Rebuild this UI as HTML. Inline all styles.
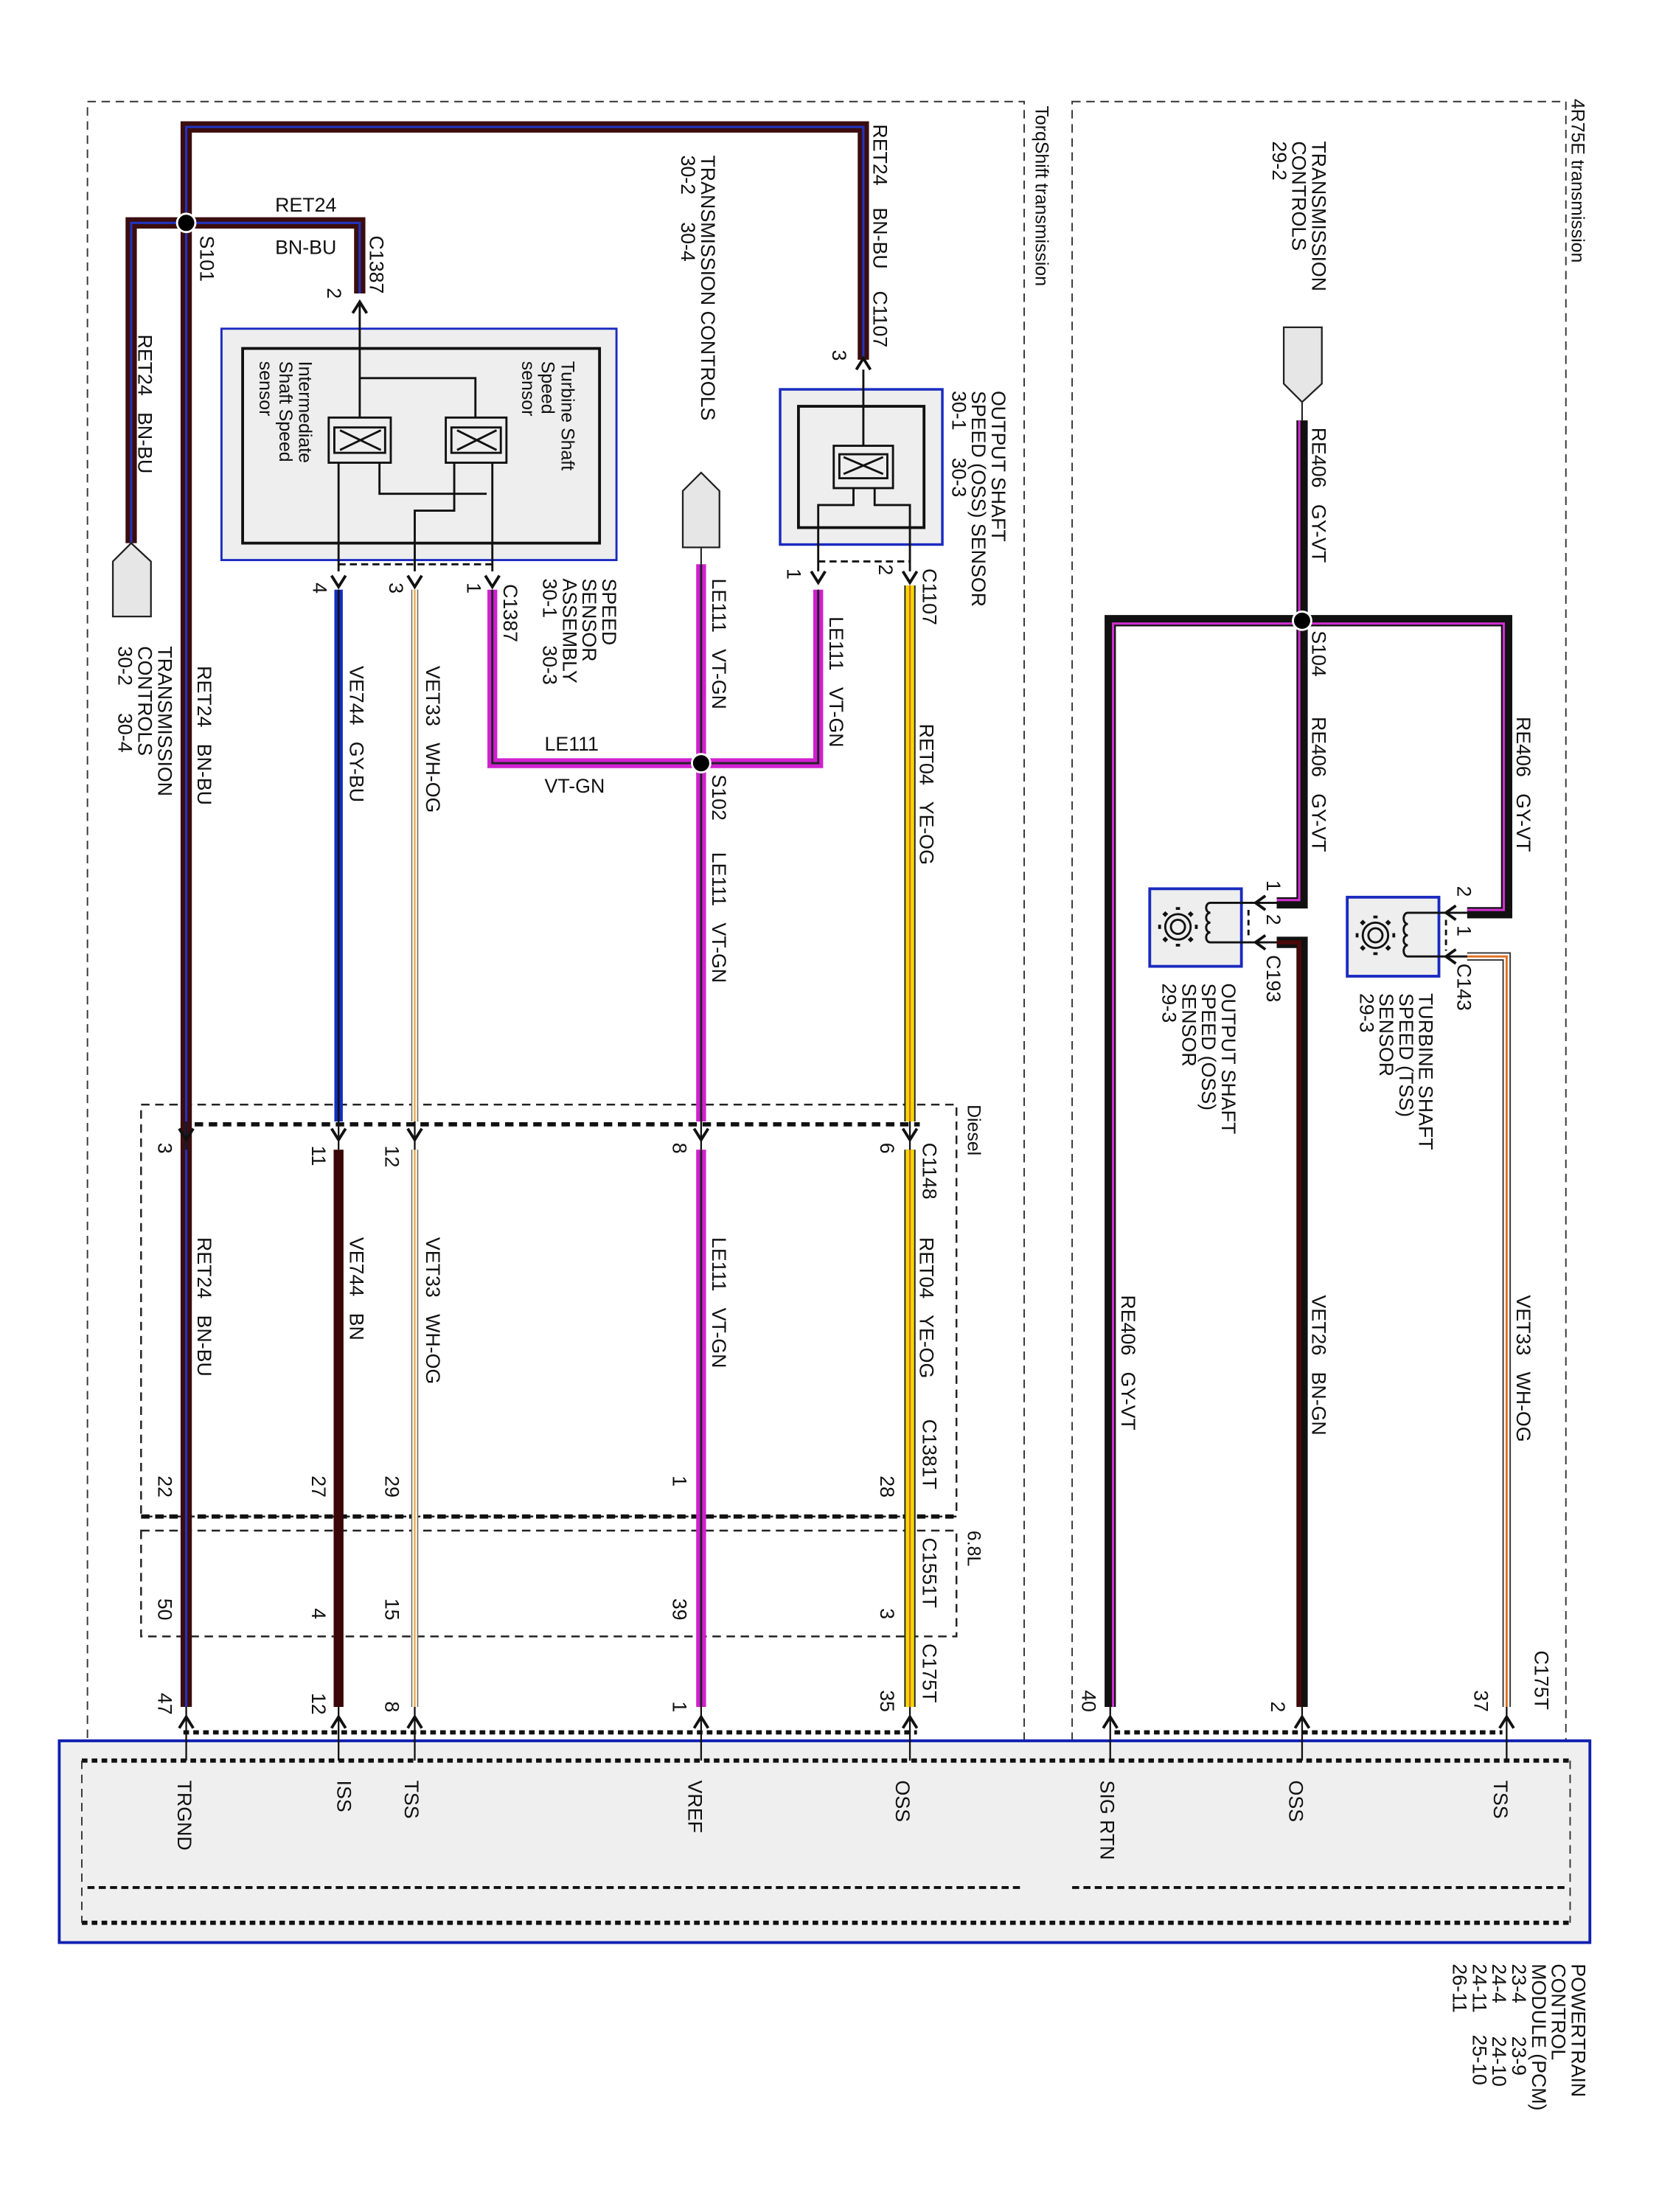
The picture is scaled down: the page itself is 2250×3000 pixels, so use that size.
<!DOCTYPE html>
<html><head><meta charset="utf-8">
<style>
html,body{margin:0;padding:0;background:#fff;}
svg{display:block;}
text{font-family:"Liberation Sans",sans-serif;font-size:14px;fill:#111;white-space:pre;}
.s{font-size:13px;}
.w{fill:none;stroke-linejoin:miter;stroke-linecap:butt;}
</style></head><body>
<svg width="2250" height="3000" viewBox="0 0 1176 1568" preserveAspectRatio="none" xmlns="http://www.w3.org/2000/svg">
<rect x="0" y="0" width="1176" height="1568" fill="#fff"/>
<rect x="62" y="72" width="664" height="1266" fill="none" stroke="#333" stroke-width="1" stroke-dasharray="6,4"/>
<rect x="760" y="72" width="350" height="1266" fill="none" stroke="#333" stroke-width="1" stroke-dasharray="6,4"/>
<text class="s" transform="translate(734,75) rotate(90)">TorqShift transmission</text>
<text class="s" transform="translate(1114,70) rotate(90)">4R75E transmission</text>

<rect x="42" y="1234" width="1085" height="143" fill="#efefef" stroke="#1020b0" stroke-width="2"/>
<line x1="58" y1="1248" x2="1113" y2="1248" stroke="#111" stroke-width="3" stroke-dasharray="4,3"/>
<line x1="58" y1="1363" x2="1113" y2="1363" stroke="#111" stroke-width="3" stroke-dasharray="4,3"/>
<line x1="58" y1="1248" x2="58" y2="1363" stroke="#333" stroke-dasharray="6,4"/>
<line x1="1113" y1="1248" x2="1113" y2="1363" stroke="#333" stroke-dasharray="6,4"/>
<line x1="62" y1="1338" x2="726" y2="1338" stroke="#111" stroke-width="2" stroke-dasharray="5,3"/>
<line x1="760" y1="1338" x2="1110" y2="1338" stroke="#111" stroke-width="2" stroke-dasharray="5,3"/>
<line x1="130" y1="1228" x2="650" y2="1228" stroke="#111" stroke-width="3" stroke-dasharray="4,3"/>
<line x1="790" y1="1228" x2="1065" y2="1228" stroke="#111" stroke-width="3" stroke-dasharray="4,3"/>
<text transform="translate(126,1262) rotate(90)">TRGND</text>
<text transform="translate(239,1262) rotate(90)">ISS</text>
<text transform="translate(287,1262) rotate(90)">TSS</text>
<text transform="translate(488,1262) rotate(90)">VREF</text>
<text transform="translate(635,1262) rotate(90)">OSS</text>
<text transform="translate(780,1262) rotate(90)">SIG RTN</text>
<text transform="translate(914,1262) rotate(90)">OSS</text>
<text transform="translate(1059,1262) rotate(90)">TSS</text>
<text transform="translate(1114,1392) rotate(90)">POWERTRAIN</text>
<text transform="translate(1100,1392) rotate(90)">CONTROL</text>
<text transform="translate(1086,1392) rotate(90)">MODULE (PCM)</text>
<text transform="translate(1072,1392) rotate(90)">23-4      23-9</text>
<text transform="translate(1058,1392) rotate(90)">24-4      24-10</text>
<text transform="translate(1044,1392) rotate(90)">24-11    25-10</text>
<text transform="translate(1030,1392) rotate(90)">26-11</text>

<rect x="100" y="783" width="578" height="292" fill="none" stroke="#222" stroke-width="1.3" stroke-dasharray="6,4"/>
<line x1="100" y1="1075" x2="678" y2="1075" stroke="#111" stroke-width="3" stroke-dasharray="6,4"/>
<line x1="128" y1="797" x2="652" y2="797" stroke="#111" stroke-width="3" stroke-dasharray="6,4"/>
<rect x="100" y="1085" width="578" height="75" fill="none" stroke="#222" stroke-width="1.3" stroke-dasharray="6,4"/>
<text class="s" transform="translate(686,783) rotate(90)">Diesel</text>
<text class="s" transform="translate(686,1085) rotate(90)">6.8L</text>
<text transform="translate(654,810) rotate(90)">C1148</text>
<text transform="translate(654,1006) rotate(90)">C1381T</text>
<text transform="translate(654,1090) rotate(90)">C1551T</text>
<text transform="translate(654,1165) rotate(90)">C175T</text>
<text transform="translate(1088,1170) rotate(90)">C175T</text>

<g class="w">
<path d="M132 1210 V90 H612 V255" stroke="#3b0d0d" stroke-width="8"/>
<path d="M132 1210 V90 H612 V255" stroke="#2233c0" stroke-width="1.6"/>
<path d="M93 385 V158 H255 V208" stroke="#3b0d0d" stroke-width="8"/>
<path d="M93 385 V158 H255 V208" stroke="#2233c0" stroke-width="1.6"/>
<path d="M240 418 V795" stroke="#1030c0" stroke-width="6"/>
<path d="M240 418 V795" stroke="#111" stroke-width="1.4"/>
<path d="M240 815 V1210" stroke="#3a0808" stroke-width="7"/>
<path d="M294 418 V795 M294 815 V1210" stroke="#666" stroke-width="5"/>
<path d="M294 418 V795 M294 815 V1210" stroke="#fff6dc" stroke-width="3.5"/>
<path d="M294 418 V795 M294 815 V1210" stroke="#e0a050" stroke-width="1"/>
<path d="M349 418 V541 H580 V418" stroke="#d020d0" stroke-width="7"/>
<path d="M349 418 V541 H580 V418" stroke="#222" stroke-width="1.5"/>
<path d="M497 400 V795 M497 815 V1210" stroke="#d020d0" stroke-width="7"/>
<path d="M497 400 V795 M497 815 V1210" stroke="#222" stroke-width="1.5"/>
<path d="M645 415 V795 M645 815 V1210" stroke="#222" stroke-width="8"/>
<path d="M645 415 V795 M645 815 V1210" stroke="#f5d800" stroke-width="6"/>
<path d="M645 415 V795 M645 815 V1210" stroke="#d07000" stroke-width="1.2"/>
<path d="M923 298 V640 H905" stroke="#111" stroke-width="8"/>
<path d="M921 298 V638 H905" stroke="#d030d0" stroke-width="1.6"/>
<path d="M787 1210 V440 H1068 V647 H1040" stroke="#111" stroke-width="8"/>
<path d="M789 1210 V442 H1066 V645 H1040" stroke="#d030d0" stroke-width="1.6"/>
<path d="M905 668 H923 V1210" stroke="#111" stroke-width="8"/>
<path d="M905 668 H921 V1210" stroke="#4a0808" stroke-width="3"/>
<path d="M1040 678 H1068 V1210" stroke="#333" stroke-width="6"/>
<path d="M1040 678 H1068 V1210" stroke="#fff" stroke-width="4"/>
<path d="M1040 678 H1068 V1210" stroke="#e07020" stroke-width="1.5"/>
</g>

<circle cx="132" cy="158" r="6.5" fill="#000" stroke="#fff" stroke-width="1.5"/>
<circle cx="497" cy="541" r="6.5" fill="#000" stroke="#fff" stroke-width="1.5"/>
<circle cx="923" cy="440" r="6.5" fill="#000" stroke="#fff" stroke-width="1.5"/>

<path d="M93 385 V395" stroke="#111"/>
<polygon points="80,437 80,398 93,385 107,398 107,437" fill="#e6e6e6" stroke="#222" stroke-width="1.2"/>
<path d="M497 388 V400" stroke="#111"/>
<polygon points="484,388 484,348 497,335 510,348 510,388" fill="#e6e6e6" stroke="#222" stroke-width="1.2"/>
<path d="M923 285 V298" stroke="#111"/>
<polygon points="910,232 937,232 937,272 923,285 910,272" fill="#e6e6e6" stroke="#222" stroke-width="1.2"/>

<rect x="157" y="233" width="280" height="164" fill="#eee" stroke="#1a2ac0" stroke-width="1.5"/>
<rect x="172" y="247" width="253" height="138" fill="none" stroke="#111" stroke-width="2"/>
<g fill="none" stroke="#111" stroke-width="1.5">
<path d="M255 215 V296 M255 268 H337 V296"/>
<rect x="233" y="296" width="44" height="32"/>
<rect x="316" y="296" width="43" height="32"/>
<rect x="237" y="303" width="36" height="18"/>
<rect x="320" y="303" width="35" height="18"/>
<path d="M240 328 V405 M269 328 V350 H345 M322 328 V362 H294 V405 M349 328 V405"/>
<path d="M241 305 L270 319 M241 319 L270 305 M324 305 L352 319 M324 319 L352 305"/>
<path d="M240 400 H350" stroke-dasharray="5,3"/>
</g>
<text class="s" transform="translate(398,256) rotate(90)">Turbine Shaft</text>
<text class="s" transform="translate(384,256) rotate(90)">Speed</text>
<text class="s" transform="translate(370,256) rotate(90)">sensor</text>
<text class="s" transform="translate(212,256) rotate(90)">Intermediate</text>
<text class="s" transform="translate(198,256) rotate(90)">Shaft Speed</text>
<text class="s" transform="translate(184,256) rotate(90)">sensor</text>

<rect x="553" y="276" width="115" height="110" fill="#eee" stroke="#1a2ac0" stroke-width="1.8"/>
<rect x="566" y="288" width="89" height="86" fill="none" stroke="#111" stroke-width="2"/>
<g fill="none" stroke="#111" stroke-width="1.5">
<path d="M612 262 V316"/>
<rect x="591" y="316" width="42" height="30"/>
<rect x="595" y="322" width="34" height="17"/>
<path d="M598 324 L626 336 M598 336 L626 324"/>
<path d="M605 346 V358 H580 V405 M620 346 V358 H645 V405"/>
<path d="M580 398 H645" stroke-dasharray="5,3"/>
</g>

<rect x="815" y="630" width="65" height="55" fill="#eee" stroke="#1a2ac0" stroke-width="2"/>
<rect x="955" y="636" width="65" height="56" fill="#eee" stroke="#1a2ac0" stroke-width="2"/>
<g fill="none" stroke="#111" stroke-width="1.5">
<circle cx="835" cy="657" r="9"/><circle cx="835" cy="657" r="5"/>
<circle cx="975" cy="663" r="9"/><circle cx="975" cy="663" r="5"/>
<path d="M835 645 V643 M835 669 V671 M823 657 H821 M847 657 H849 M827 649 L825 647 M843 665 L845 667 M843 649 L845 647 M827 665 L825 667" stroke-width="3"/>
<path d="M975 651 V649 M975 675 V677 M963 663 H961 M987 663 H989 M967 655 L965 653 M983 671 L985 673 M983 655 L985 653 M967 671 L965 673" stroke-width="3"/>
<path d="M858 640 H905 M858 668 H905 M858 640 c-4 0 -4 7 0 7 c-4 0 -4 7 0 7 c-4 0 -4 7 0 7 c-4 0 -4 7 0 7"/>
<path d="M998 647 H1040 M998 678 H1040 M998 647 c-4 0 -4 8 0 8 c-4 0 -4 8 0 8 c-4 0 -4 7 0 7 c-4 0 -4 8 0 8"/>
<path d="M885 645 V664 M1025 652 V674" stroke-dasharray="4,3"/>
</g>

<g fill="none" stroke="#111" stroke-width="2">
<path d="M250 222 L255 214 L260 222"/>
<path d="M607 262 L612 254 L617 262"/>
<path d="M235 408 L240 416 L245 408 M289 408 L294 416 L299 408 M344 408 L349 416 L354 408"/>
<path d="M575 405 L580 413 L585 405 M640 405 L645 413 L650 405"/>
<path d="M127 800 L132 808 L137 800 M235 800 L240 808 L245 800 M289 800 L294 808 L299 800 M492 800 L497 808 L502 800 M640 800 L645 808 L650 800"/>
<path d="M897 635 L890 640 L897 645 M897 663 L890 668 L897 673"/>
<path d="M1032 642 L1025 647 L1032 652 M1032 673 L1025 678 L1032 683"/>
<path d="M127 1225 L132 1217 L137 1225 M235 1225 L240 1217 L245 1225 M289 1225 L294 1217 L299 1225 M492 1225 L497 1217 L502 1225 M640 1225 L645 1217 L650 1225 M782 1225 L787 1217 L792 1225 M918 1225 L923 1217 L928 1225 M1063 1225 L1068 1217 L1073 1225"/>
</g>
<g stroke="#111" stroke-width="1.2">
<path d="M132 1210 V1248 M240 1210 V1248 M294 1210 V1248 M497 1210 V1248 M645 1210 V1248 M787 1210 V1248 M923 1210 V1248 M1068 1210 V1248"/>
<path d="M132 795 V815 M240 795 V815 M294 795 V815 M497 795 V815 M645 795 V815"/>
<path d="M890 640 H905 M890 668 H905 M1025 647 H1040 M1025 678 H1040"/>
</g>

<text x="195" y="150">RET24</text>
<text x="195" y="180">BN-BU</text>
<text x="386" y="532">LE111</text>
<text x="386" y="562">VT-GN</text>
<text transform="translate(98,237) rotate(90)">RET24   BN-BU</text>
<text transform="translate(142,167) rotate(90)">S101</text>
<text transform="translate(262,167) rotate(90)">C1387</text>
<text transform="translate(232,204) rotate(90)">2</text>
<text transform="translate(112,458) rotate(90)">TRANSMISSION</text>
<text transform="translate(98,458) rotate(90)">CONTROLS</text>
<text transform="translate(84,458) rotate(90)">30-2     30-4</text>
<text transform="translate(140,472) rotate(90)">RET24   BN-BU</text>
<text transform="translate(248,472) rotate(90)">VE744   GY-BU</text>
<text transform="translate(302,472) rotate(90)">VET33   WH-OG</text>
<text transform="translate(427,410) rotate(90)">SPEED</text>
<text transform="translate(413,410) rotate(90)">SENSOR</text>
<text transform="translate(399,410) rotate(90)">ASSEMBLY</text>
<text transform="translate(385,410) rotate(90)">30-1     30-3</text>
<text transform="translate(357,414) rotate(90)">C1387</text>
<text transform="translate(331,413) rotate(90)">1</text>
<text transform="translate(276,413) rotate(90)">3</text>
<text transform="translate(222,413) rotate(90)">4</text>
<text transform="translate(497,110) rotate(90)">TRANSMISSION CONTROLS</text>
<text transform="translate(483,110) rotate(90)">30-2     30-4</text>
<text transform="translate(505,410) rotate(90)">LE111   VT-GN</text>
<text transform="translate(505,549) rotate(90)">S102</text>
<text transform="translate(505,604) rotate(90)">LE111   VT-GN</text>
<text transform="translate(588,437) rotate(90)">LE111   VT-GN</text>
<text transform="translate(619,88) rotate(90)">RET24    BN-BU    C1107</text>
<text transform="translate(590,248) rotate(90)">3</text>
<text transform="translate(703,277) rotate(90)">OUTPUT SHAFT</text>
<text transform="translate(689,277) rotate(90)">SPEED (OSS) SENSOR</text>
<text transform="translate(675,277) rotate(90)">30-1     30-3</text>
<text transform="translate(654,403) rotate(90)">C1107</text>
<text transform="translate(623,400) rotate(90)">2</text>
<text transform="translate(558,403) rotate(90)">1</text>
<text transform="translate(652,513) rotate(90)">RET04   YE-OG</text>

<text transform="translate(140,877) rotate(90)">RET24   BN-BU</text>
<text transform="translate(248,877) rotate(90)">VE744   BN</text>
<text transform="translate(302,877) rotate(90)">VET33   WH-OG</text>
<text transform="translate(505,877) rotate(90)">LE111   VT-GN</text>
<text transform="translate(652,877) rotate(90)">RET04   YE-OG</text>
<g>
<text transform="translate(112,810) rotate(90)">3</text>
<text transform="translate(221,812) rotate(90)">11</text>
<text transform="translate(273,812) rotate(90)">12</text>
<text transform="translate(477,810) rotate(90)">8</text>
<text transform="translate(624,810) rotate(90)">6</text>
<text transform="translate(112,1046) rotate(90)">22</text>
<text transform="translate(221,1046) rotate(90)">27</text>
<text transform="translate(273,1046) rotate(90)">29</text>
<text transform="translate(477,1046) rotate(90)">1</text>
<text transform="translate(624,1046) rotate(90)">28</text>
<text transform="translate(112,1133) rotate(90)">50</text>
<text transform="translate(221,1140) rotate(90)">4</text>
<text transform="translate(273,1133) rotate(90)">15</text>
<text transform="translate(477,1133) rotate(90)">39</text>
<text transform="translate(624,1140) rotate(90)">3</text>
<text transform="translate(112,1200) rotate(90)">47</text>
<text transform="translate(221,1200) rotate(90)">12</text>
<text transform="translate(273,1206) rotate(90)">8</text>
<text transform="translate(477,1206) rotate(90)">1</text>
<text transform="translate(624,1198) rotate(90)">35</text>
<text transform="translate(767,1198) rotate(90)">40</text>
<text transform="translate(901,1206) rotate(90)">2</text>
<text transform="translate(1045,1198) rotate(90)">37</text>
</g>

<text transform="translate(930,100) rotate(90)">TRANSMISSION</text>
<text transform="translate(916,100) rotate(90)">CONTROLS</text>
<text transform="translate(902,100) rotate(90)">29-2</text>
<text transform="translate(930,303) rotate(90)">RE406   GY-VT</text>
<text transform="translate(930,447) rotate(90)">S104</text>
<text transform="translate(930,508) rotate(90)">RE406   GY-VT</text>
<text transform="translate(1075,508) rotate(90)">RE406   GY-VT</text>
<text transform="translate(898,624) rotate(90)">1</text>
<text transform="translate(898,648) rotate(90)">2</text>
<text transform="translate(898,677) rotate(90)">C193</text>
<text transform="translate(866,697) rotate(90)">OUTPUT SHAFT</text>
<text transform="translate(852,697) rotate(90)">SPEED (OSS)</text>
<text transform="translate(838,697) rotate(90)">SENSOR</text>
<text transform="translate(824,697) rotate(90)">29-3</text>
<text transform="translate(1033,628) rotate(90)">2</text>
<text transform="translate(1033,656) rotate(90)">1</text>
<text transform="translate(1033,683) rotate(90)">C143</text>
<text transform="translate(1006,704) rotate(90)">TURBINE SHAFT</text>
<text transform="translate(992,704) rotate(90)">SPEED (TSS)</text>
<text transform="translate(978,704) rotate(90)">SENSOR</text>
<text transform="translate(964,704) rotate(90)">29-3</text>
<text transform="translate(795,918) rotate(90)">RE406   GY-VT</text>
<text transform="translate(930,918) rotate(90)">VET26   BN-GN</text>
<text transform="translate(1075,918) rotate(90)">VET33   WH-OG</text>
</svg>
</body></html>
